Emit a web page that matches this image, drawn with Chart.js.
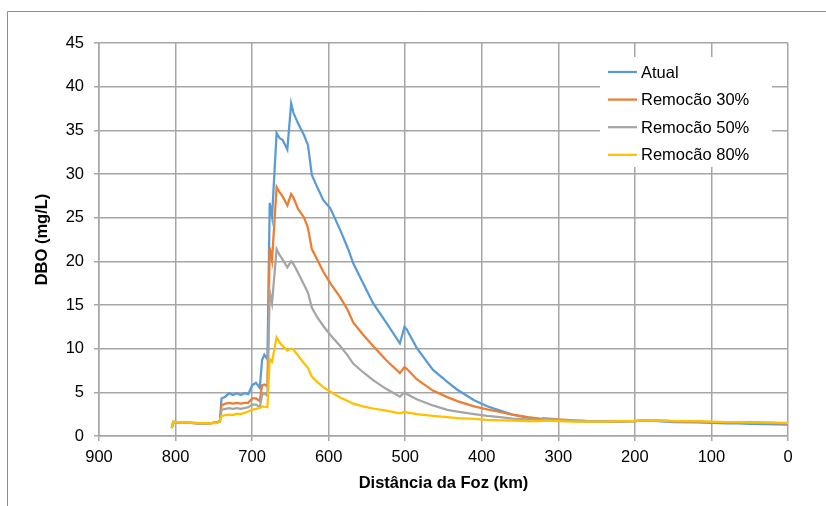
<!DOCTYPE html>
<html lang="pt">
<head>
<meta charset="utf-8">
<title>DBO ao longo do rio</title>
<script src="https://cdn.jsdelivr.net/npm/chart.js@4/dist/chart.umd.min.js"></script>
<style>
  html, body { margin: 0; padding: 0; background: #fff; }
  canvas { display: block; }
</style>
</head>
<body>
<canvas id="dbo" width="826" height="506"></canvas>
<script>
// Distância da foz (km) de cada ponto do perfil
const distanciaKm = [
  805, 803, 790, 770, 755, 745, 742, 740, 735, 730,
  725, 720, 715, 710, 705, 700, 695, 690, 687, 684,
  680, 677, 674, 668, 664, 660, 654, 649, 646, 640,
  632, 627, 622, 615, 607, 598, 585, 575, 568, 555,
  542, 525, 507, 501, 498, 485, 464, 445, 432, 410,
  393, 376, 360, 340, 322, 320, 300, 280, 260, 240,
  220, 200, 190, 185, 170, 150, 120, 100, 80, 65,
  50, 30, 0
];

// DBO (mg/L) — cenário atual
const dboAtual = [
  0.9, 1.6, 1.55, 1.45, 1.45, 1.6, 1.8, 4.3, 4.5, 4.9,
  4.7, 4.9, 4.7, 4.9, 4.8, 5.8, 6.1, 5.5, 8.7, 9.3,
  8.8, 26.7, 25.1, 34.7, 34.1, 33.9, 32.8, 38.1, 37.0, 35.8,
  34.4, 33.3, 29.9, 28.5, 27.0, 26.1, 23.6, 21.5, 19.8, 17.5,
  15.2, 13.0, 10.6, 12.5, 12.2, 10.1, 7.6, 6.2, 5.3, 4.1,
  3.4, 2.9, 2.45, 2.1, 1.9, 1.9, 1.8, 1.7, 1.65, 1.65,
  1.65, 1.7, 1.75, 1.75, 1.7, 1.6, 1.55, 1.5, 1.45, 1.45,
  1.4, 1.35, 1.3
];

// DBO (mg/L) — remoção de 30% da carga
const dboRemocao30 = [
  0.9, 1.6, 1.55, 1.45, 1.45, 1.6, 1.7, 3.5, 3.7, 3.8,
  3.7, 3.8, 3.7, 3.8, 3.8, 4.3, 4.3, 4.0, 5.8, 5.9,
  5.7, 21.6, 20.1, 28.5, 27.9, 27.4, 26.4, 27.7, 27.3, 26.0,
  25.0, 23.8, 21.4, 20.2, 18.8, 17.5, 15.9, 14.4, 13.0, 11.6,
  10.3, 8.7, 7.2, 7.9, 7.7, 6.5, 5.2, 4.45, 4.0, 3.4,
  3.05, 2.75, 2.45, 2.15, 1.95, 2.05, 1.9, 1.8, 1.7, 1.7,
  1.7, 1.7, 1.8, 1.8, 1.75, 1.7, 1.65, 1.6, 1.6, 1.6,
  1.55, 1.5, 1.45
];

// DBO (mg/L) — remoção de 50% da carga
const dboRemocao50 = [
  0.9, 1.6, 1.55, 1.45, 1.45, 1.6, 1.65, 3.0, 3.1, 3.2,
  3.1, 3.2, 3.1, 3.2, 3.3, 3.6, 3.6, 3.3, 4.7, 4.9,
  4.6, 16.5, 15.2, 21.4, 20.7, 20.2, 19.3, 20.0, 19.7, 18.7,
  17.3, 16.4, 14.7, 13.6, 12.6, 11.6, 10.3, 9.2, 8.3, 7.3,
  6.4, 5.4, 4.5, 5.0, 4.8, 4.2, 3.5, 3.0, 2.8, 2.5,
  2.3, 2.15, 2.0, 1.9, 1.85, 1.95, 1.85, 1.75, 1.7, 1.7,
  1.7, 1.7, 1.8, 1.8, 1.75, 1.7, 1.65, 1.6, 1.6, 1.6,
  1.55, 1.5, 1.45
];

// DBO (mg/L) — remoção de 80% da carga
const dboRemocao80 = [
  0.9, 1.6, 1.55, 1.5, 1.45, 1.5, 1.8, 2.3, 2.4, 2.45,
  2.4, 2.55, 2.5, 2.65, 2.8, 3.0, 3.1, 3.2, 3.4, 3.35,
  3.3, 8.8, 8.5, 11.3, 10.7, 10.3, 9.8, 10.0, 9.9, 9.2,
  8.3, 7.8, 6.8, 6.2, 5.6, 5.1, 4.4, 4.0, 3.7, 3.4,
  3.15, 2.9, 2.6, 2.75, 2.7, 2.5, 2.3, 2.15, 2.05, 1.95,
  1.85, 1.8, 1.75, 1.7, 1.7, 1.75, 1.7, 1.65, 1.65, 1.65,
  1.7, 1.7, 1.8, 1.8, 1.75, 1.7, 1.7, 1.65, 1.6, 1.6,
  1.55, 1.55, 1.5
];

const seriesNomes = ['Atual', 'Remocão 30%', 'Remocão 50%', 'Remocão 80%'];
const seriesValores = [dboAtual, dboRemocao30, dboRemocao50, dboRemocao80];
const seriesCores = ['#5B9BD5', '#ED7D31', '#A5A5A5', '#FFC000'];

// Eixos
const eixoX = { min: 0, max: 900, passo: 100, titulo: 'Distância da Foz (km)' };
const eixoY = { min: 0, max: 45, passo: 5, titulo: 'DBO (mg/L)' };

const FONTE = "'Liberation Sans', Arial, sans-serif";
const COR_GRADE = '#a6a6a6';

Chart.defaults.font.family = FONTE;
Chart.defaults.color = '#000';

const datasets = seriesNomes.map((nome, i) => ({
  label: nome,
  data: distanciaKm.map((d, k) => ({ x: d, y: seriesValores[i][k] })),
  borderColor: seriesCores[i],
  backgroundColor: seriesCores[i],
  borderWidth: 2.25,
  pointRadius: 0,
  tension: 0,
  fill: false,
  // a última série fica por cima das demais
  order: seriesNomes.length - 1 - i
}));

// Legenda dentro da área do gráfico, com fundo branco sobre a grade
const legendaInterna = {
  id: 'legendaInterna',
  afterDatasetsDraw(chart) {
    const { ctx, chartArea } = chart;
    const bx = chartArea.right - 188, by = chartArea.top + 14;
    const bw = 172, bh = 110;
    ctx.save();
    ctx.fillStyle = '#fff';
    ctx.fillRect(bx, by, bw, bh);
    ctx.font = '16.5px ' + FONTE;
    ctx.textBaseline = 'middle';
    ctx.textAlign = 'left';
    chart.data.datasets.forEach((ds, i) => {
      const y = by + 15 + i * 27.6;
      ctx.strokeStyle = ds.borderColor;
      ctx.lineWidth = 2.25;
      ctx.beginPath();
      ctx.moveTo(bx + 8, y);
      ctx.lineTo(bx + 37, y);
      ctx.stroke();
      ctx.fillStyle = '#000';
      ctx.fillText(ds.label, bx + 41, y + 1);
    });
    ctx.restore();
  }
};

// Moldura da área do gráfico
const moldura = {
  id: 'moldura',
  afterDraw(chart) {
    const { ctx, width, height } = chart;
    ctx.save();
    ctx.strokeStyle = '#8c8c8c';
    ctx.lineWidth = 1;
    ctx.beginPath();
    ctx.moveTo(width, 11.5);
    ctx.lineTo(7.5, 11.5);
    ctx.lineTo(7.5, height);
    ctx.stroke();
    ctx.restore();
  }
};

new Chart(document.getElementById('dbo'), {
  type: 'line',
  data: { datasets },
  options: {
    responsive: false,
    animation: false,
    events: [],
    layout: { padding: { top: 43, right: 38, bottom: 0, left: 0 } },
    plugins: {
      legend: { display: false },
      tooltip: { enabled: false }
    },
    scales: {
      x: {
        type: 'linear',
        reverse: true,
        min: eixoX.min,
        max: eixoX.max,
        afterFit(s) { s.height = 70; },
        ticks: {
          stepSize: eixoX.passo,
          font: { size: 16.5 },
          color: '#000',
          padding: 7,
          maxRotation: 0,
          autoSkip: false
        },
        grid: { color: COR_GRADE, lineWidth: 1.5, tickLength: 5 },
        border: { color: COR_GRADE, width: 1.5 },
        title: {
          display: true,
          text: eixoX.titulo,
          font: { size: 16.5, weight: 'bold' },
          color: '#000',
          padding: { top: 0, bottom: 13 }
        }
      },
      y: {
        type: 'linear',
        min: eixoY.min,
        max: eixoY.max,
        afterFit(s) { s.width = 99; },
        ticks: {
          stepSize: eixoY.passo,
          font: { size: 16.5 },
          color: '#000',
          padding: 10
        },
        grid: { color: COR_GRADE, lineWidth: 1.5, tickLength: 5 },
        border: { color: COR_GRADE, width: 1.5 },
        title: {
          display: true,
          text: eixoY.titulo,
          font: { size: 16.5, weight: 'bold' },
          color: '#000',
          padding: { top: 33, bottom: 0 }
        }
      }
    }
  },
  plugins: [legendaInterna, moldura]
});
</script>
</body>
</html>
